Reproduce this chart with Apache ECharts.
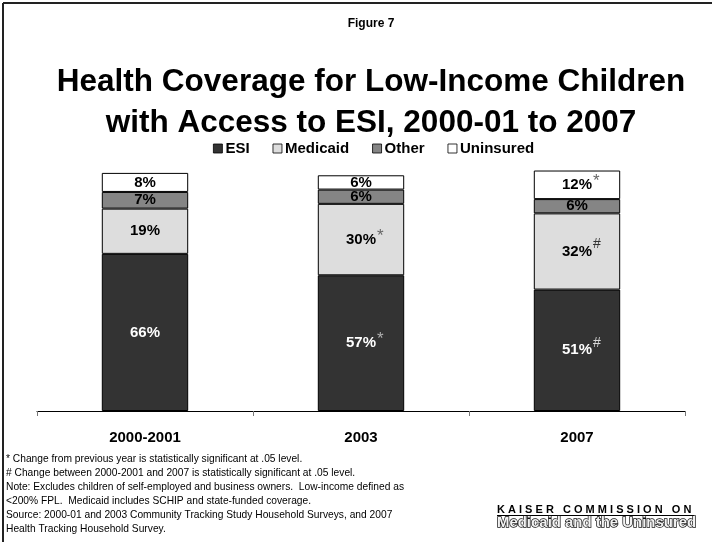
<!DOCTYPE html>
<html>
<head>
<meta charset="utf-8">
<script src="https://cdn.jsdelivr.net/npm/echarts@6/dist/echarts.min.js"></script>
<style>
  html, body { margin: 0; padding: 0; background: #fff; }
  #chart { width: 712px; height: 542px; }
</style>
</head>
<body>
<div id="chart"></div>
<script>
// Survey years
const years = ['2000-2001', '2003', '2007'];

// Share of low-income children with access to ESI, by coverage source (%)
const esi       = [66, 57, 51];
const medicaid  = [19, 30, 32];
const other     = [7, 6, 6];
const uninsured = [8, 6, 12];

// Significance markers: '*' change from previous year, '#' change 2000-2001 to 2007
const esiMarks       = ['', '*', '#'];
const medicaidMarks  = ['', '*', '#'];
const otherMarks     = ['', '', ''];
const uninsuredMarks = ['', '', '*'];

const seriesNames = ['ESI', 'Medicaid', 'Other', 'Uninsured'];

const titleLines = [
  'Health Coverage for Low-Income Children',
  'with Access to ESI, 2000-01 to 2007'
];

const footnotes = [
  '* Change from previous year is statistically significant at .05 level.',
  '# Change between 2000-2001 and 2007 is statistically significant at .05 level.',
  'Note: Excludes children of self-employed and business owners.  Low-income defined as',
  '<200% FPL.  Medicaid includes SCHIP and state-funded coverage.',
  'Source: 2000-01 and 2003 Community Tracking Study Household Surveys, and 2007',
  'Health Tracking Household Survey.'
];

const FONT = "'Liberation Sans', Arial, Helvetica, sans-serif";
const HEAD_X = 371;   // horizontal centre of the heading block

function makeLabel(marks, textColor, astColor, hashColor) {
  return {
    show: true,
    position: 'inside',
    fontFamily: FONT,
    formatter: function (p) {
      const m = marks[p.dataIndex];
      if (!m) return '{v|' + p.value + '%}';
      const key = m === '#' ? 'hash' : 'ast';
      return '{' + key + 'Pad|' + m + '}{v|' + p.value + '%}{' + key + '|' + m + '}';
    },
    rich: {
      v:       { fontFamily: FONT, fontWeight: 'bold', fontSize: 15, color: textColor },
      ast:     { fontFamily: FONT, fontSize: 17, color: astColor, padding: [0, 0, 7, 1] },
      astPad:  { fontFamily: FONT, fontSize: 17, color: 'rgba(0,0,0,0)', padding: [0, 1, 7, 0] },
      hash:    { fontFamily: FONT, fontSize: 14, color: hashColor, padding: [0, 0, 15, 1] },
      hashPad: { fontFamily: FONT, fontSize: 14, color: 'rgba(0,0,0,0)', padding: [0, 1, 15, 0] }
    }
  };
}

function barSeries(name, data, color, marks, textColor, astColor, hashColor) {
  return {
    name: name,
    type: 'bar',
    stack: 'coverage',
    barWidth: '40%',
    data: data,
    itemStyle: { color: color, borderColor: '#000', borderWidth: 1 },
    label: makeLabel(marks, textColor, astColor, hashColor),
    emphasis: { disabled: true }
  };
}

const chart = echarts.init(document.getElementById('chart'), null, { renderer: 'canvas' });

chart.setOption({
  animation: false,
  backgroundColor: '#fff',
  legend: {
    data: seriesNames,
    left: 208,
    top: 136,
    itemWidth: 9,
    itemHeight: 9,
    itemGap: 23,
    icon: 'rect',
    itemStyle: { borderColor: '#000', borderWidth: 0.8 },
    textStyle: { fontFamily: FONT, fontWeight: 'bold', fontSize: 15, color: '#000', padding: [0, 0, 0, -2] }
  },
  grid: { left: 37, right: 27, top: 161, bottom: 131, containLabel: false },
  xAxis: {
    type: 'category',
    data: years,
    axisLine: { lineStyle: { color: '#000', width: 1 } },
    axisTick: { show: true, alignWithLabel: false, length: 5, lineStyle: { color: '#777' } },
    axisLabel: { fontFamily: FONT, fontWeight: 'bold', fontSize: 15, color: '#000', margin: 19 }
  },
  yAxis: {
    type: 'value',
    min: 0,
    max: 105,
    show: false,
    splitLine: { show: false }
  },
  series: [
    barSeries('ESI', esi, '#333333', esiMarks, '#fff', '#b0b0b0', '#d8d8d8'),
    barSeries('Medicaid', medicaid, '#dddddd', medicaidMarks, '#000', '#666', '#333'),
    barSeries('Other', other, '#858585', otherMarks, '#000', '#555', '#333'),
    barSeries('Uninsured', uninsured, '#ffffff', uninsuredMarks, '#000', '#666', '#333')
  ],
  graphic: [
    // frame
    { type: 'line', shape: { x1: 3, y1: 3, x2: 712, y2: 3 }, style: { stroke: '#222', lineWidth: 2 }, silent: true },
    { type: 'line', shape: { x1: 3, y1: 3, x2: 3, y2: 542 }, style: { stroke: '#222', lineWidth: 2 }, silent: true },
    // figure number
    {
      type: 'text', x: HEAD_X, y: 24, silent: true,
      style: { text: 'Figure 7', font: 'bold 12px ' + FONT, fill: '#000', align: 'center', verticalAlign: 'middle' }
    },
    // heading
    {
      type: 'text', x: HEAD_X, y: 82, silent: true,
      style: { text: titleLines[0], font: 'bold 31.5px ' + FONT, fill: '#000', align: 'center', verticalAlign: 'middle' }
    },
    {
      type: 'text', x: HEAD_X, y: 123, silent: true,
      style: { text: titleLines[1], font: 'bold 31.5px ' + FONT, fill: '#000', align: 'center', verticalAlign: 'middle' }
    },
    // footnotes
    {
      type: 'text', x: 6, y: 452, scaleX: 0.93, silent: true,
      style: { text: footnotes.join('\n'), font: '11px ' + FONT, lineHeight: 14, fill: '#000', align: 'left', verticalAlign: 'top' }
    },
    // organisation mark
    {
      type: 'text', x: 497, y: 510, scaleX: 1.1, silent: true,
      style: { text: 'K A I S E R   C O M M I S S I O N   O N', font: 'bold 10px ' + FONT, fill: '#000', align: 'left', verticalAlign: 'middle' }
    },
    { type: 'line', shape: { x1: 497, y1: 515.5, x2: 694, y2: 515.5 }, style: { stroke: '#000', lineWidth: 1 }, silent: true },
    {
      type: 'text', x: 497, y: 523, scaleX: 1.03, silent: true,
      style: {
        text: 'Medicaid and the Uninsured',
        font: 'bold 14.5px ' + FONT,
        fill: '#f2f2f2',
        stroke: '#111',
        lineWidth: 1.4,
        align: 'left',
        verticalAlign: 'middle'
      }
    }
  ]
});
</script>
</body>
</html>
